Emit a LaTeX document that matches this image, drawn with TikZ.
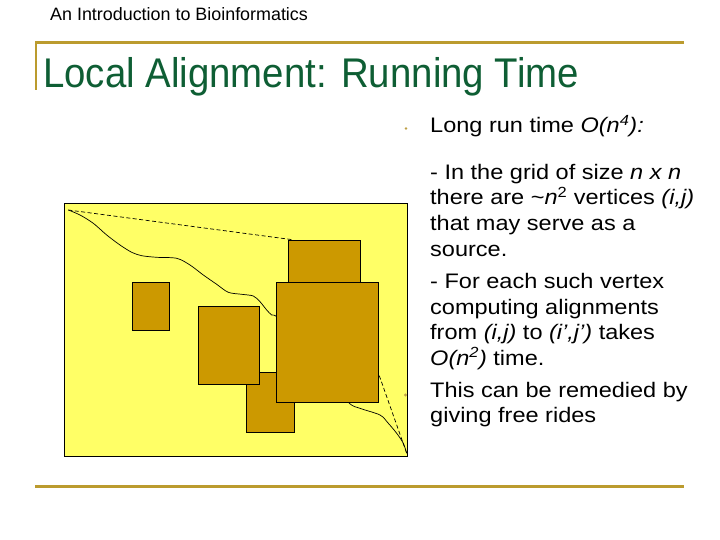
\documentclass[tikz,border=0pt]{standalone}
\usepackage{fontspec}
\setmainfont{Liberation Sans}
\newfontfamily\bodyfont[FakeStretch=1.12]{Liberation Sans}
\definecolor{rulegold}{RGB}{187,155,46}
\definecolor{titlegreen}{RGB}{14,94,52}
\definecolor{gridyellow}{RGB}{255,255,102}
\definecolor{boxgold}{RGB}{204,153,0}
\definecolor{bulletgold}{RGB}{190,160,70}
\begin{document}
\begin{tikzpicture}[x=1pt,y=-1pt,
  txt/.style={anchor=base west, inner sep=0pt, font=\bodyfont\fontsize{21}{25}\selectfont},
  blockbox/.style={draw=black, line width=0.9pt, fill=boxgold},
  pathline/.style={black, line width=0.7pt},
  dashline/.style={black, line width=0.7pt, dash pattern=on 4pt off 2.5pt}]
\useasboundingbox (0,0) rectangle (720,540);
% header
\node[anchor=base west, inner sep=0pt, font=\fontsize{17.9}{20}\selectfont] (header) at (50,21) {An Introduction to Bioinformatics};
% rules
\draw[rulegold, line width=2.2pt] (35,42.5) -- (684,42.5);
\draw[rulegold, line width=2.2pt] (36,41.5) -- (36,90);
\draw[rulegold, line width=3pt] (35,486) -- (684,486);
% title
\node[anchor=base west, inner sep=0pt, text=titlegreen] (title) at (43,88)
  {\scalebox{1}[1.08]{\fontsize{38.4}{44}\selectfont Local Alignment: Running Time}};
% grid
\path[fill=gridyellow, draw=black, line width=1pt] (64,204) rectangle (407,456);
\coordinate (src) at (68.3,210);
\coordinate (snk) at (406.7,453.3);
\coordinate (topbox) at (293.3,239.8);
\coordinate (sidebox) at (379.3,375.7);
\draw[pathline] plot[smooth, tension=0.5] coordinates {(68.3,210) (80,215) (93.3,223.3) (106.7,235) (120,245) (131.7,252.3) (141.7,255.7) (156.7,257.3) (176.7,258.3) (190,265) (203.3,275) (216.7,284.3) (228.3,292.3) (241.7,294.3) (253.3,296) (260,301.7) (266.7,310) (271.7,315) (280,320) (320,370) (348.3,402.3) (360,408.3) (380,415) (388.3,423.3) (396.7,433.3) (403.3,443.3) (406.7,453.3)};
\draw[dashline] (src) -- (topbox);
\draw[dashline] (sidebox) -- (snk);
% blocks
\path[blockbox] (288,240) rectangle (360,282);
\path[blockbox] (246,372) rectangle (294,432);
\path[blockbox] (198,306) rectangle (259,384);
\path[blockbox] (276,282) rectangle (378,402);
\path[blockbox] (132,282) rectangle (169,330);
% bullets
\fill[bulletgold] (406,128.5) circle (1.3);
\fill[bulletgold] (405.5,395) circle (1.6);
% text
\node[txt] (l1) at (430,133) {Long run time \textit{O(n\textsuperscript{4}):}};
\node[txt] (l2) at (430,179.3) {- In the grid of size \textit{n x n}};
\node[txt] (l3) at (430,205) {there are \textasciitilde\textit{n}\textsuperscript{2} vertices \textit{(i,j)}};
\node[txt] (l4) at (430,230.7) {that may serve as a};
\node[txt] (l5) at (430,256) {source.};
\node[txt] (l6) at (430,288.3) {- For each such vertex};
\node[txt] (l7) at (430,314) {computing alignments};
\node[txt] (l8) at (430,339.3) {from \textit{(i,j)} to \textit{(i’,j’)} takes};
\node[txt] (l9) at (430,365) {\textit{O(n\textsuperscript{2})} time.};
\node[txt] (l10) at (430,397.3) {This can be remedied by};
\node[txt] (l11) at (430,422.7) {giving free rides};
\end{tikzpicture}
\end{document}
